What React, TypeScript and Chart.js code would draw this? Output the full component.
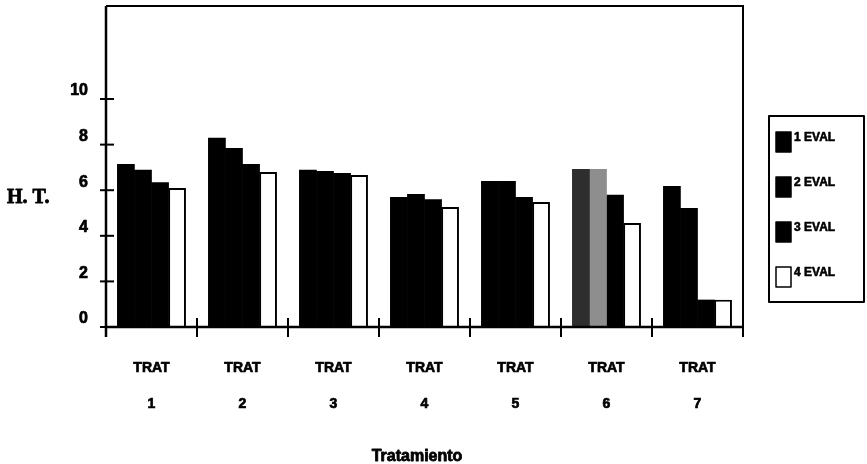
import React, { useEffect, useRef } from "react";
import { Chart, registerables } from "chart.js";

Chart.register(...registerables);

// Treatments on the x axis (two-line labels)
const TREATMENTS = ["1", "2", "3", "4", "5", "6", "7"];
const SERIES_LABELS = ["1 EVAL", "2 EVAL", "3 EVAL", "4 EVAL"];

// H. T. values per evaluation
const EVAL_1 = [7.15, 8.3, 6.9, 5.7, 6.4, 6.93, 6.18];
const EVAL_2 = [6.9, 7.85, 6.84, 5.83, 6.4, 6.93, 5.22];
const EVAL_3 = [6.35, 7.15, 6.75, 5.6, 5.7, 5.8, 1.2];
const EVAL_4 = [6.1, 6.8, 6.67, 5.26, 5.48, 4.56, 1.2];

const Y_TICKS_MAX = 10;

const SERIES_FILL = ["#000000", "#000000", "#000000", "#ffffff"];
// treatment 6 has its first two bars printed in grey
const GREY_INDEX = 5;
const GREY_FILL = ["#2e2e2e", "#8e8e8e"];

const FONT = "'Liberation Sans', Arial, sans-serif";

function lineSeg(ctx: CanvasRenderingContext2D, x1: number, y1: number, x2: number, y2: number) {
  ctx.beginPath();
  ctx.moveTo(x1, y1);
  ctx.lineTo(x2, y2);
  ctx.stroke();
}

// heavy text: fill plus a thin outline of the same colour
function heavyText(ctx: CanvasRenderingContext2D, text: string, x: number, y: number, w: number) {
  ctx.lineWidth = w;
  ctx.strokeText(text, x, y);
  ctx.fillText(text, x, y);
}

const decorPlugin = {
  id: "decor",
  afterDraw(chart: any) {
    const { ctx, chartArea: a, scales } = chart;
    const xs = scales.x;
    const ys = scales.y;
    ctx.save();
    ctx.strokeStyle = "#000";
    ctx.lineCap = "butt";

    // top and right frame
    ctx.lineWidth = 2;
    ctx.beginPath();
    ctx.moveTo(a.left, a.top);
    ctx.lineTo(a.right, a.top);
    ctx.lineTo(a.right, a.bottom + 10);
    ctx.stroke();

    // axis lines
    ctx.lineWidth = 2.5;
    ctx.beginPath();
    ctx.moveTo(a.left, a.top);
    ctx.lineTo(a.left, a.bottom + 10);
    ctx.moveTo(a.left, a.bottom);
    ctx.lineTo(a.right, a.bottom);
    ctx.stroke();

    // y tick marks crossing the axis
    ctx.lineWidth = 2;
    ys.ticks.forEach((t: any) => {
      const py = ys.getPixelForValue(t.value);
      lineSeg(ctx, a.left - 6, py, a.left + 8, py);
    });

    // x tick marks at category boundaries
    const n = xs.ticks.length;
    for (let i = 1; i < n; i++) {
      const px = (xs.getPixelForTick(i - 1) + xs.getPixelForTick(i)) / 2;
      lineSeg(ctx, px, a.bottom - 9, px, a.bottom + 10);
    }

    // axis titles
    ctx.fillStyle = "#000";
    ctx.lineJoin = "round";
    ctx.textBaseline = "middle";
    ctx.textAlign = "left";
    ctx.font = "bold 20px 'Liberation Serif', 'Times New Roman', serif";
    heavyText(ctx, "H. T.", 7, 198, 0.8);
    ctx.textAlign = "center";
    ctx.font = `bold 16px ${FONT}`;
    heavyText(ctx, "Tratamiento", 417, 457, 0.8);

    // legend
    const lx = 769, ly = 116, lw = 95, lh = 186;
    ctx.lineWidth = 2;
    ctx.strokeRect(lx, ly, lw, lh);
    ctx.font = `bold 12px ${FONT}`;
    ctx.textAlign = "left";
    ctx.textBaseline = "top";
    chart.data.datasets.forEach((ds: any, i: number) => {
      const sy = 132 + i * 45;
      ctx.fillStyle = SERIES_FILL[i];
      ctx.fillRect(776, sy, 15, 20);
      ctx.lineWidth = 1.5;
      ctx.strokeRect(776, sy, 15, 20);
      ctx.fillStyle = "#000";
      heavyText(ctx, ds.label, 794, sy, 0.6);
    });

    ctx.restore();
  },
};

export default function App() {
  const canvasRef = useRef<HTMLCanvasElement | null>(null);

  useEffect(() => {
    const canvas = canvasRef.current;
    if (!canvas) return;
    const series = [EVAL_1, EVAL_2, EVAL_3, EVAL_4];
    const datasets = series.map((values, s) => {
      const isWhite = SERIES_FILL[s] === "#ffffff";
      const fill = TREATMENTS.map((_, i) =>
        i === GREY_INDEX && s < GREY_FILL.length ? GREY_FILL[s] : SERIES_FILL[s]
      );
      return {
        label: SERIES_LABELS[s],
        data: values,
        backgroundColor: fill,
        borderColor: "#000000",
        borderWidth: isWhite ? 2 : 0,
        borderSkipped: "bottom" as const,
        barPercentage: 1.04,
        categoryPercentage: 0.75,
      };
    });

    const chart = new Chart(canvas, {
      type: "bar",
      data: {
        labels: TREATMENTS.map((t) => ["TRAT", t]),
        datasets,
      },
      options: {
        responsive: false,
        animation: false,
        layout: { padding: { top: 6, right: 124, left: 0, bottom: 0 } },
        plugins: {
          legend: { display: false },
          tooltip: { enabled: false },
        },
        scales: {
          x: {
            grid: { display: false, drawTicks: false },
            border: { display: false },
            ticks: {
              color: "#000",
              autoSkip: false,
              maxRotation: 0,
              padding: 23,
              textStrokeColor: "#000",
              textStrokeWidth: 0.7,
              font: { family: FONT, size: 14, weight: "bold", lineHeight: 36 / 14 },
            },
            afterFit: (scale: any) => {
              scale.height = 137;
              scale.paddingLeft = 0;
              scale.paddingRight = 0;
            },
          },
          y: {
            min: 0,
            max: 14.08,
            grid: { display: false, drawTicks: false },
            border: { display: false },
            ticks: {
              stepSize: 2,
              color: "#000",
              padding: 18,
              labelOffset: -8,
              textStrokeColor: "#000",
              textStrokeWidth: 0.7,
              font: { family: FONT, size: 16, weight: "bold" },
            },
            afterBuildTicks: (scale: any) => {
              scale.ticks = scale.ticks.filter((t: any) => t.value <= Y_TICKS_MAX);
            },
            afterFit: (scale: any) => {
              scale.width = 106;
              scale.paddingTop = 0;
              scale.paddingBottom = 0;
            },
          },
        },
      },
      plugins: [decorPlugin],
    });

    return () => chart.destroy();
  }, []);

  return (
    <div style={{ position: "fixed", left: 0, top: 0, width: 867, height: 464, background: "#fff" }}>
      <canvas ref={canvasRef} width={867} height={464} />
    </div>
  );
}
